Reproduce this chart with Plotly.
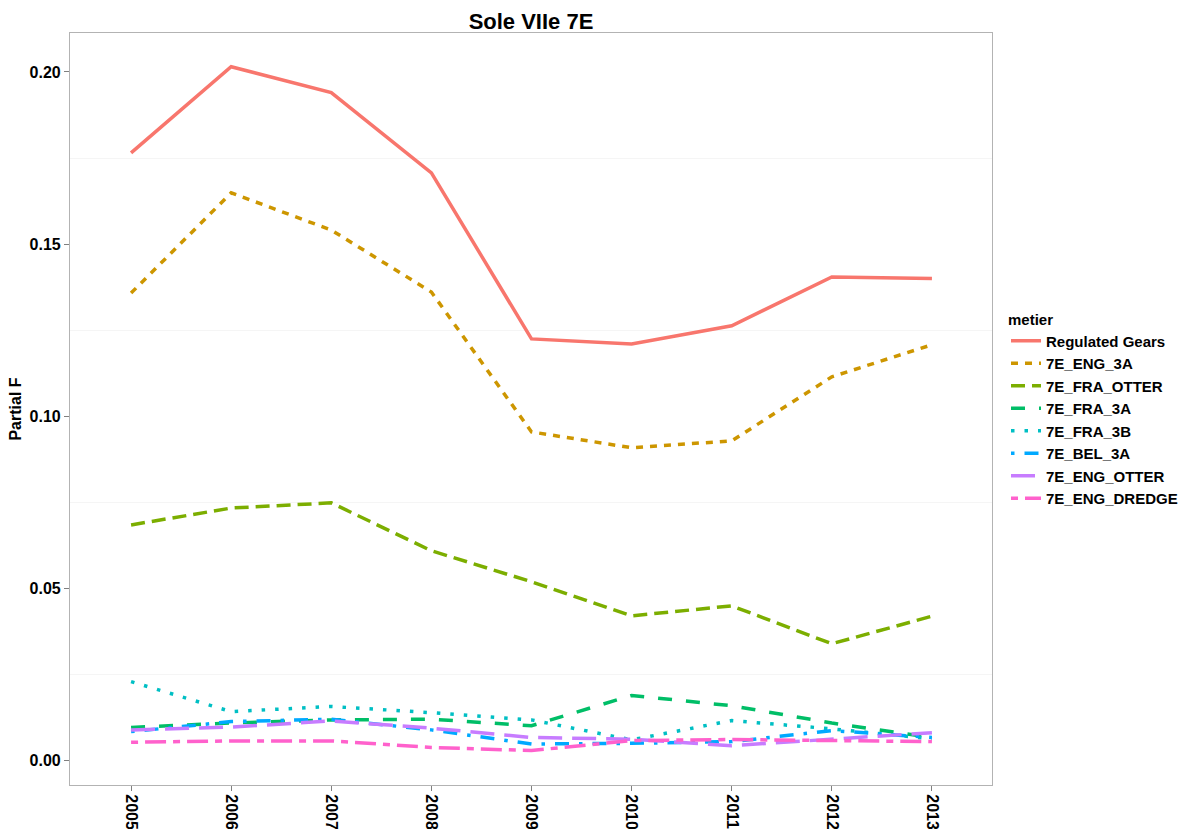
import plotly.graph_objects as go

years = [2005, 2006, 2007, 2008, 2009, 2010, 2011, 2012, 2013]

regulated_gears = [0.1765, 0.2015, 0.1940, 0.1707, 0.1225, 0.1210, 0.1263, 0.1405, 0.1400]
eng_3a = [0.1358, 0.1649, 0.1541, 0.1361, 0.0955, 0.0909, 0.0929, 0.1115, 0.1208]
fra_otter = [0.0685, 0.0734, 0.0749, 0.0610, 0.0520, 0.0421, 0.0450, 0.0340, 0.0420]
fra_3a = [0.0097, 0.0110, 0.0119, 0.0121, 0.0102, 0.0190, 0.0160, 0.0110, 0.0068]
fra_3b = [0.0230, 0.0143, 0.0158, 0.0140, 0.0119, 0.0061, 0.0117, 0.0093, 0.0064]
bel_3a = [0.0085, 0.0114, 0.0121, 0.0090, 0.0049, 0.0051, 0.0056, 0.0088, 0.0068]
eng_otter = [0.0090, 0.0098, 0.0116, 0.0095, 0.0068, 0.0063, 0.0044, 0.0064, 0.0082]
eng_dredge = [0.0054, 0.0058, 0.0058, 0.0039, 0.0030, 0.0059, 0.0062, 0.0060, 0.0056]

metiers = ["Regulated Gears", "7E_ENG_3A", "7E_FRA_OTTER", "7E_FRA_3A",
           "7E_FRA_3B", "7E_BEL_3A", "7E_ENG_OTTER", "7E_ENG_DREDGE"]
values = [regulated_gears, eng_3a, fra_otter, fra_3a, fra_3b, bel_3a, eng_otter, eng_dredge]
colors = ["#F8766D", "#CD9600", "#7CAE00", "#00BE67", "#00BFC4", "#00A9FF", "#C77CFF", "#FF61CC"]
dashes = ["solid", "7px,7px", "14px,7px", "14px,14px", "3.5px,10px",
          "3.5px,10px,14px,10px", "24px,10px", "7px,7px,21px,7px"]

y_ticks = [0.00, 0.05, 0.10, 0.15, 0.20]
y_tick_text = ["0.00", "0.05", "0.10", "0.15", "0.20"]

fig = go.Figure()
for name, vals, color, dash in zip(metiers, values, colors, dashes):
    fig.add_trace(go.Scatter(
        x=years, y=vals, mode="lines", name=f"<b>{name}</b>",
        line=dict(color=color, width=3.5, dash=dash),
    ))

font_family = "Liberation Sans, Arial, sans-serif"

fig.update_layout(
    width=1184, height=829,
    margin=dict(l=70, r=192, t=33, b=44, autoexpand=False),
    paper_bgcolor="white", plot_bgcolor="white",
    title=dict(text="<b>Sole VIIe 7E</b>", x=531 / 1184, xanchor="center",
               y=1 - 21 / 829, yanchor="middle",
               font=dict(family=font_family, size=22, color="black")),
    font=dict(family=font_family, color="black"),
    legend=dict(
        title=dict(text="<b>metier</b>", font=dict(size=15, family=font_family)),
        font=dict(size=15, family=font_family),
        x=(1006 - 70) / 922, xanchor="left", y=(785 - 305) / 752, yanchor="top",
        tracegroupgap=0, itemwidth=30,
        bgcolor="rgba(0,0,0,0)",
    ),
    showlegend=True,
)

fig.update_xaxes(
    range=[2004.39, 2013.6],
    tickmode="array", tickvals=years, ticktext=[f"<b>{y}</b>" for y in years],
    tickangle=90,
    tickfont=dict(size=16, color="black", family=font_family),
    ticks="outside", ticklen=5, tickcolor="#7F7F7F",
    showgrid=False, zeroline=False, automargin=False,
    showline=True, linecolor="#B3B3B3", linewidth=1.2, mirror=True,
)
fig.update_yaxes(
    range=[-0.0070, 0.2113],
    tickmode="array", tickvals=y_ticks, ticktext=[f"<b>{t}</b>" for t in y_tick_text],
    tickfont=dict(size=16, color="black", family=font_family),
    ticks="outside", ticklen=5, tickcolor="#7F7F7F",
    showgrid=False, zeroline=False, automargin=False,
    showline=True, linecolor="#B3B3B3", linewidth=1.2, mirror=True,
    title=dict(text="<b>Partial F</b>", font=dict(size=16, family=font_family), standoff=3),
    minor=dict(tickvals=[0.025, 0.075, 0.125, 0.175], showgrid=True,
               gridcolor="#F5F5F5", gridwidth=1, ticks=""),
)

fig.write_html(
    "out.html",
    config={"displayModeBar": False},
    post_script="document.body.style.margin='0';document.body.style.overflow='hidden';",
)
